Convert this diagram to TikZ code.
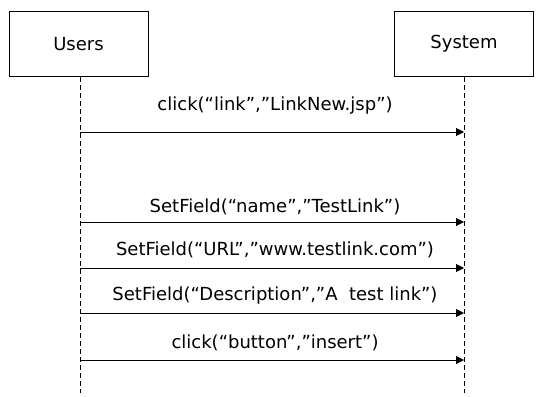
\documentclass[tikz,border=0pt]{standalone}
\usepackage{fontspec}
\setmainfont{DejaVu Sans}
\usetikzlibrary{arrows.meta}
\begin{document}
\begin{tikzpicture}[x=1pt,y=-1pt,
  actor/.style={draw,line width=1pt,minimum width=139pt,minimum height=64pt,inner sep=0pt,font=\fontsize{18}{21}\selectfont},
  life/.style={line width=1pt,dash pattern=on 5pt off 3pt},
  msg/.style={line width=1pt,-{Triangle[length=8pt,width=8pt]}},
  lbl/.style={font=\fontsize{18}{21}\selectfont,inner sep=0pt}]
\useasboundingbox (0,0) rectangle (537,396);
\node[actor] (users) at (78.5,44) {Users};
\node[actor] (system) at (464,44) {System};
\coordinate (uend) at (80,393);
\coordinate (send) at (464,393);
\draw[life] (users.south -| uend) -- (uend);
\draw[life] (system.south) -- (send);
\foreach \y/\t/\ty [count=\i] in {132/{click(“link”,”LinkNew.jsp”)}/106,
  222/{SetField(“name”,”TestLink”)}/207,
  268/{SetField(“URL”,”www.testlink.com”)}/250,
  313/{SetField(“Description”,”A\ \ test link”)}/296,
  360/{click(“button”,”insert”)}/343}{
  \coordinate (a\i) at (80,\y);
  \coordinate (b\i) at (464,\y);
  \draw[msg] (a\i) -- (b\i);
  \node[lbl] (t\i) at (275,\ty) {\t};
}
\end{tikzpicture}
\end{document}
